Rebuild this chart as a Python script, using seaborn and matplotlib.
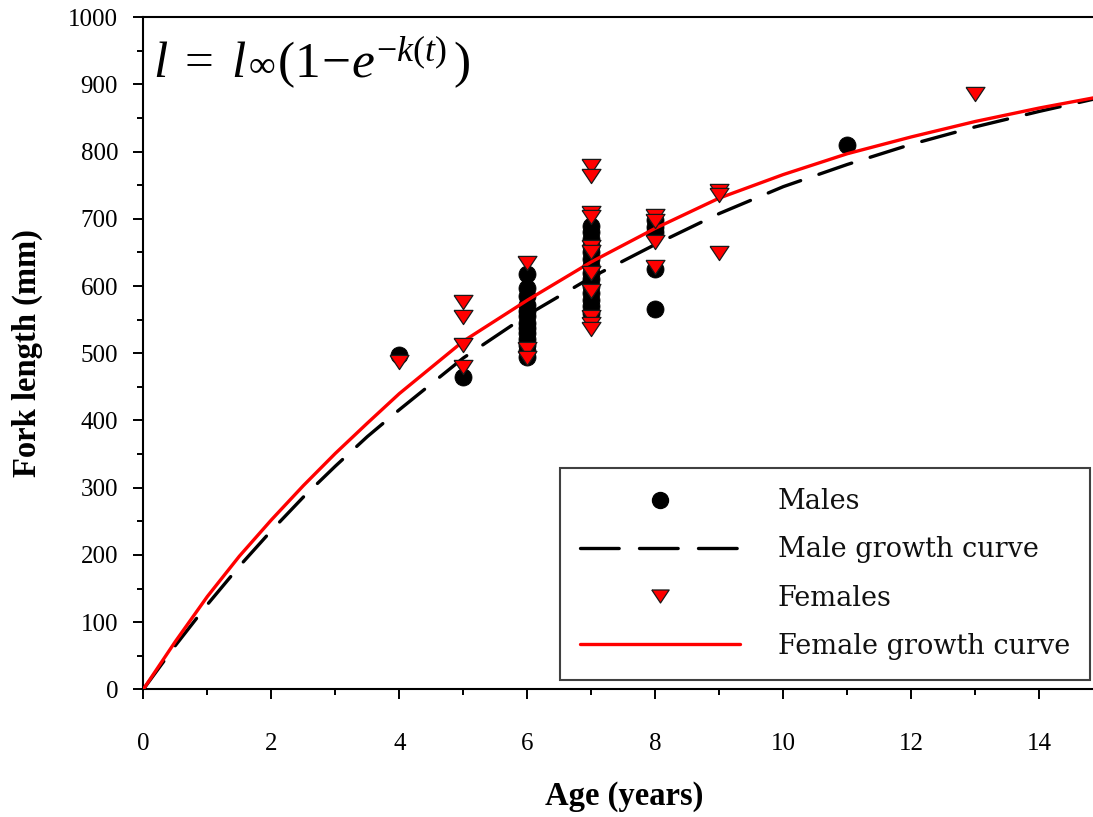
import matplotlib
matplotlib.use('Agg')
import matplotlib.pyplot as plt
import seaborn as sns
import pandas as pd
from matplotlib.lines import Line2D
from matplotlib.ticker import MultipleLocator
from matplotlib.offsetbox import TextArea, HPacker, AnchoredOffsetbox

# ---- data ----
male_age = [4, 5,
            6, 6, 6, 6, 6, 6, 6, 6, 6, 6, 6, 6, 6,
            7, 7, 7, 7, 7, 7, 7, 7, 7, 7, 7, 7, 7, 7,
            8, 8, 8, 8, 8,
            11]
male_fl = [497, 464,
           618, 597, 585, 572, 563, 555, 545, 537, 530, 522, 512, 503, 494,
           690, 680, 670, 660, 650, 640, 630, 620, 610, 600, 590, 580, 570, 560,
           698, 688, 680, 625, 566,
           810]

female_age = [4, 5, 5, 5, 5, 6, 6, 6,
              7, 7, 7, 7, 7, 7, 7, 7, 7, 7, 7,
              8, 8, 8, 8, 9, 9, 9, 13]
female_fl = [487, 577, 554, 513, 479, 634, 507, 493,
             778, 764, 709, 703, 658, 650, 620, 592, 554, 543, 536,
             704, 697, 665, 629, 741, 736, 649, 886]

curve_age = [0, 0.5, 1, 1.5, 2, 2.5, 3, 3.5, 4, 5, 6, 7, 8, 9, 10, 11, 12, 13, 14, 14.84]
male_curve = [0, 65, 126, 183, 236, 286, 332, 376, 416, 493, 557, 613, 662, 708, 748, 781, 811, 837, 860, 878]
female_curve = [0, 71, 138, 198, 252, 303, 351, 396, 440, 518, 579, 636, 686, 731, 766, 797, 822, 845, 865, 880]

x_ticks = [0, 2, 4, 6, 8, 10, 12, 14]
y_ticks = [0, 100, 200, 300, 400, 500, 600, 700, 800, 900, 1000]

legend_labels = ["Males", "Male growth curve", "Females", "Female growth curve"]

# ---- style ----
sns.set_theme(style='white')
plt.rcParams['font.family'] = ['Liberation Serif', 'DejaVu Serif']
plt.rcParams['mathtext.fontset'] = 'custom'
plt.rcParams['mathtext.rm'] = 'Liberation Serif'
plt.rcParams['mathtext.it'] = 'Liberation Serif:italic'
plt.rcParams['mathtext.bf'] = 'Liberation Serif:bold'
plt.rcParams['mathtext.fallback'] = 'stix'

W, H = 1093, 817
fig = plt.figure(figsize=(W / 100, H / 100), dpi=100)
ax = fig.add_axes([143.3 / W, (H - 689.3) / H, (W - 143.3) / W, 672 / H])

males = pd.DataFrame({'age': male_age, 'fl': male_fl})
females = pd.DataFrame({'age': female_age, 'fl': female_fl})
curves = pd.DataFrame({'age': curve_age, 'male': male_curve, 'female': female_curve})

tri = [(-1, 0.75), (1, 0.75), (0, -0.75), (-1, 0.75)]
dash = (0, (10.4, 5.8))
legend_dash = (0, (11.6, 6.1))

sns.scatterplot(data=males, x='age', y='fl', ax=ax, color='black', marker='o',
                s=150, edgecolor='black', linewidth=0.6, zorder=2, legend=False)
sns.lineplot(data=curves, x='age', y='male', ax=ax, color='black', lw=2.4,
             linestyle=dash, dash_capstyle='round', errorbar=None,
             zorder=3, legend=False)
sns.lineplot(data=curves, x='age', y='female', ax=ax, color='#ff0000', lw=2.4,
             errorbar=None, zorder=3, legend=False)
sns.scatterplot(data=females, x='age', y='fl', ax=ax, color='#ff0000', marker=tri,
                s=185, edgecolor='#1a1a1a', linewidth=0.9, zorder=4, legend=False)

ax.set_xlim(0, (W - 143.3) / 64.0)
ax.set_ylim(0, 1000)
ax.set_xticks(x_ticks)
ax.set_yticks(y_ticks)
ax.xaxis.set_minor_locator(MultipleLocator(1))
ax.yaxis.set_minor_locator(MultipleLocator(50))

for side in ['left', 'bottom', 'top']:
    ax.spines[side].set_visible(True)
    ax.spines[side].set_color('black')
    ax.spines[side].set_linewidth(1.5)
ax.spines['right'].set_visible(False)

ax.tick_params(which='major', direction='out', length=7.2, width=1.4, color='black',
               labelsize=18, labelcolor='black', bottom=True, left=True, top=False, right=False)
ax.tick_params(which='minor', direction='out', length=4.3, width=1.4, color='black',
               bottom=True, left=True, top=False, right=False)
ax.tick_params(axis='x', which='major', pad=24)
ax.tick_params(axis='y', which='major', pad=11)

ax.set_xlabel('Age (years)', fontsize=23.5, fontweight='bold', color='black')
ax.set_ylabel('Fork length (mm)', fontsize=23.5, fontweight='bold', color='black')
ax.xaxis.set_label_coords(0.506, -0.136)
ax.yaxis.set_label_coords(-0.106, 0.5)

# growth equation, built from pieces so the infinity sign can be smaller
parts = [
    TextArea(r'$l\;=\;l$', textprops=dict(fontsize=37, color='black')),
    TextArea('∞', textprops=dict(fontsize=27, color='black')),
    TextArea(r'$(1\!-\!e^{-k(t)}\,)$', textprops=dict(fontsize=37, color='black')),
]
eq = HPacker(children=parts, align='baseline', pad=0, sep=1)
anch = AnchoredOffsetbox(loc='upper left', child=eq, frameon=False, pad=0, borderpad=0,
                         bbox_to_anchor=(0.0105, 0.975), bbox_transform=ax.transAxes)
ax.add_artist(anch)

handles = [
    Line2D([], [], marker='o', ls='none', color='black', markersize=11.5, mec='black'),
    Line2D([], [], color='black', lw=2.4, ls=legend_dash, dash_capstyle='round'),
    Line2D([], [], marker=tri, ls='none', mfc='#ff0000', mec='#1a1a1a', mew=0.9, markersize=12.5),
    Line2D([], [], color='#ff0000', lw=2.4),
]
leg = ax.legend(handles, legend_labels, loc='lower right', bbox_to_anchor=(0.997, 0.0138),
                prop={'family': 'DejaVu Serif', 'size': 19.5}, frameon=True, fancybox=False,
                framealpha=1, edgecolor='#404040', borderpad=0.75, labelspacing=0.78,
                handlelength=5.9, handletextpad=1.4, borderaxespad=0)
leg.get_frame().set_linewidth(1.5)
for t in leg.get_texts():
    t.set_color('#111111')

fig.savefig('out.png', dpi=100)
